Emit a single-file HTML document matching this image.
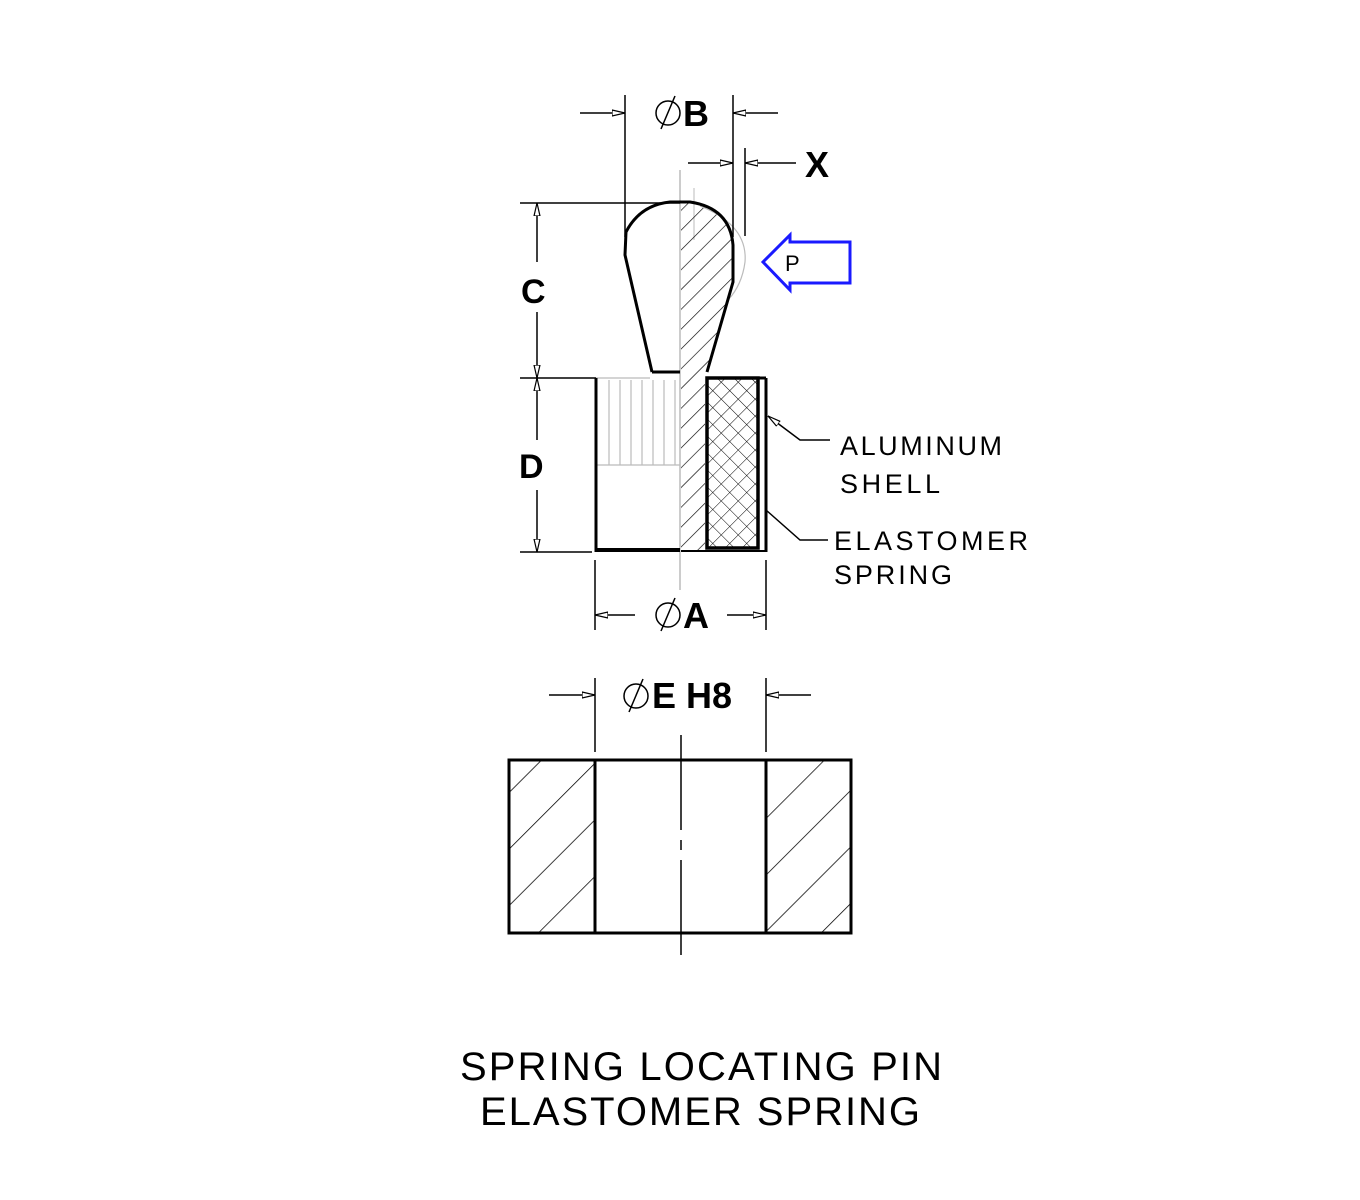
<!DOCTYPE html>
<html><head><meta charset="utf-8"><style>html,body{margin:0;padding:0;background:#fff}svg{display:block}</style></head><body>
<svg width="1360" height="1200" viewBox="0 0 1360 1200" xmlns="http://www.w3.org/2000/svg" font-family="Liberation Sans, sans-serif">
<defs>
<pattern id="h1" patternUnits="userSpaceOnUse" width="14" height="14" patternTransform="rotate(45)"><line x1="0" y1="0" x2="0" y2="14" stroke="#000" stroke-width="1.3"/></pattern>
<pattern id="h2" patternUnits="userSpaceOnUse" width="40" height="40" patternTransform="rotate(45)"><line x1="0" y1="0" x2="0" y2="40" stroke="#000" stroke-width="1.5"/></pattern>
<pattern id="xh" patternUnits="userSpaceOnUse" width="12" height="12" patternTransform="rotate(45)"><line x1="0" y1="0" x2="0" y2="12" stroke="#000" stroke-width="1"/><line x1="0" y1="0" x2="12" y2="0" stroke="#000" stroke-width="1"/></pattern>
<marker id="ar" markerWidth="14" markerHeight="10" refX="13" refY="5" orient="auto" markerUnits="userSpaceOnUse"><path d="M0,2 L13,5 L0,8 Z" fill="#fff" stroke="#000" stroke-width="1.2"/></marker>
</defs>
<g stroke="#000" fill="none" stroke-width="1.5">
<line x1="680" y1="170" x2="680" y2="590" stroke="#bbb" stroke-width="1.5"/>
<line x1="694" y1="188" x2="694" y2="240" stroke="#bbb" stroke-width="1"/>
<path d="M681,202 Q730,205 733,245 L733,282 L705,376 L705,552 L681,552 Z" fill="url(#h1)" stroke="none"/>
<path d="M700,206 Q748,225 745,262 Q742,285 728,300" stroke="#bbb" stroke-width="1.2"/>
<path d="M652,372 L625,255 L626,232 Q640,205 670,202 L690,202 Q730,208 733,245 L733,282 L707,372" stroke-width="3"/>
<line x1="652" y1="372" x2="680" y2="372" stroke-width="3"/>
<line x1="625" y1="95" x2="625" y2="237"/>
<line x1="733" y1="95" x2="733" y2="237"/>
<line x1="580" y1="113" x2="625" y2="113" marker-end="url(#ar)"/>
<line x1="778" y1="113" x2="733" y2="113" marker-end="url(#ar)"/>
<line x1="745" y1="148" x2="745" y2="236"/>
<line x1="688" y1="163" x2="733" y2="163" marker-end="url(#ar)"/>
<line x1="796" y1="163" x2="745" y2="163" marker-end="url(#ar)"/>
<line x1="520" y1="203" x2="680" y2="203"/>
<line x1="520" y1="378" x2="596" y2="378"/>
<line x1="520" y1="552" x2="592" y2="552"/>
<line x1="537" y1="262" x2="537" y2="203" marker-end="url(#ar)"/>
<line x1="537" y1="312" x2="537" y2="378" marker-end="url(#ar)"/>
<line x1="537" y1="440" x2="537" y2="378" marker-end="url(#ar)"/>
<line x1="537" y1="490" x2="537" y2="552" marker-end="url(#ar)"/>
<g stroke="#bbb" stroke-width="1.2">
<line x1="609" y1="380" x2="609" y2="465"/><line x1="620" y1="380" x2="620" y2="465"/><line x1="631" y1="380" x2="631" y2="465"/><line x1="642" y1="380" x2="642" y2="465"/><line x1="653" y1="380" x2="653" y2="465"/><line x1="664" y1="380" x2="664" y2="465"/><line x1="675" y1="380" x2="675" y2="465"/>
<line x1="596" y1="465" x2="680" y2="465"/><line x1="596" y1="378" x2="650" y2="378"/>
</g>
<line x1="596" y1="378" x2="596" y2="552" stroke-width="3"/>
<line x1="596" y1="550" x2="680" y2="550" stroke-width="4"/>
<line x1="681" y1="551" x2="766" y2="551" stroke-width="2"/>
<rect x="707" y="378" width="51" height="170" fill="url(#xh)" stroke-width="3.5"/>
<line x1="707" y1="378" x2="766" y2="378" stroke-width="3"/>
<line x1="766" y1="378" x2="766" y2="552" stroke-width="3"/>
<path d="M830,440 L800,440 L768,416" marker-end="url(#ar)"/>
<path d="M828,540 L800,540 L766,510"/>
<line x1="595" y1="560" x2="595" y2="630"/>
<line x1="766" y1="560" x2="766" y2="630"/>
<line x1="635" y1="615" x2="595" y2="615" marker-end="url(#ar)"/>
<line x1="727" y1="615" x2="766" y2="615" marker-end="url(#ar)"/>
<line x1="595" y1="678" x2="595" y2="752"/>
<line x1="766" y1="678" x2="766" y2="752"/>
<line x1="549" y1="695" x2="595" y2="695" marker-end="url(#ar)"/>
<line x1="811" y1="695" x2="766" y2="695" marker-end="url(#ar)"/>
<rect x="509" y="760" width="86" height="173" fill="url(#h2)" stroke="none"/>
<rect x="766" y="760" width="85" height="173" fill="url(#h2)" stroke="none"/>
<rect x="509" y="760" width="342" height="173" stroke-width="3"/>
<line x1="595" y1="760" x2="595" y2="933" stroke-width="3"/>
<line x1="766" y1="760" x2="766" y2="933" stroke-width="3"/>
<line x1="681" y1="735" x2="681" y2="958" stroke-dasharray="95,10,10,10"/>
<path d="M763,262 L790,235 L790,242 L850,242 L850,283 L790,283 L790,290 Z" stroke="#1a1aff" stroke-width="3"/>
<circle cx="668" cy="113" r="12"/><line x1="661" y1="129" x2="675" y2="96"/>
<circle cx="668" cy="615" r="12"/><line x1="661" y1="631" x2="675" y2="598"/>
<circle cx="636" cy="696" r="12"/><line x1="629" y1="712" x2="643" y2="679"/>
</g>
<g fill="#000">
<text x="683" y="126" font-size="36" font-weight="bold">B</text>
<text x="805" y="177" font-size="36" font-weight="bold">X</text>
<text x="785" y="271" font-size="22">P</text>
<text x="521" y="303" font-size="34" font-weight="bold">C</text>
<text x="519" y="478" font-size="34" font-weight="bold">D</text>
<text x="683" y="628" font-size="36" font-weight="bold">A</text>
<text x="652" y="708" font-size="36" font-weight="bold">E H8</text>
<text x="840" y="455" font-size="27" textLength="162">ALUMINUM</text>
<text x="840" y="493" font-size="27" textLength="100">SHELL</text>
<text x="834" y="550" font-size="27" textLength="194">ELASTOMER</text>
<text x="834" y="584" font-size="27" textLength="118">SPRING</text>
<text x="460" y="1080" font-size="40" textLength="482">SPRING LOCATING PIN</text>
<text x="480" y="1125" font-size="40" textLength="440">ELASTOMER SPRING</text>
</g>
</svg>
</body></html>
